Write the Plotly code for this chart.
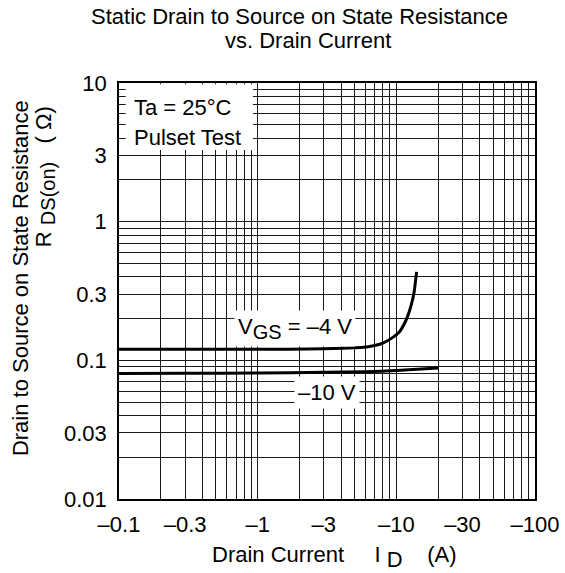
import plotly.graph_objects as go

# ---- data ----
id_vgs4 = [0.1, 0.3, 1, 3, 5, 6.1, 7, 8, 9.5, 10.5, 11.3, 12.0, 12.8, 13.4, 14.0]
r_vgs4 = [0.12, 0.12, 0.12, 0.121, 0.123, 0.125, 0.128, 0.133, 0.147, 0.16, 0.18, 0.205, 0.25, 0.306, 0.435]

id_vgs10 = [0.1, 0.3, 1, 3, 6, 10, 20]
r_vgs10 = [0.0805, 0.0807, 0.081, 0.082, 0.0828, 0.0845, 0.088]

x_label_vals = [0.1, 0.3, 1, 3, 10, 30, 100]
x_label_text = ["–0.1", "–0.3", "–1", "–3", "–10", "–30", "–100"]
y_label_vals = [0.01, 0.03, 0.1, 0.3, 1, 3, 10]
y_label_text = ["0.01", "0.03", "0.1", "0.3", "1", "3", "10"]

x_decades = [0.1, 1, 10]
y_decades = [0.01, 0.1, 1]
mult = [1, 2, 3, 4, 5, 6, 7, 8, 9]


def grid_vals(decades, top):
    vals = [round(d * m, 6) for d in decades for m in mult]
    vals.append(top)
    return vals


xg = grid_vals(x_decades, 100)
yg = grid_vals(y_decades, 10)

FONT = "Liberation Sans, Arial, sans-serif"
FS = 22
LINE = "black"
GRID = "#1a1a1a"

fig = go.Figure()
fig.add_trace(go.Scatter(x=id_vgs4, y=r_vgs4, mode="lines",
                         line=dict(color=LINE, width=3, shape="spline", smoothing=0.6),
                         showlegend=False, hoverinfo="skip"))
fig.add_trace(go.Scatter(x=id_vgs10, y=r_vgs10, mode="lines",
                         line=dict(color=LINE, width=3, shape="spline", smoothing=0.6),
                         showlegend=False, hoverinfo="skip"))

fig.update_layout(
    width=565, height=573,
    margin=dict(l=119, r=30, t=83, b=74),
    paper_bgcolor="white", plot_bgcolor="white",
    font=dict(family=FONT, size=FS, color="black"),
    showlegend=False,
)
common = dict(type="log", tickmode="array", showgrid=True, gridcolor=GRID, gridwidth=1,
              showline=True, linecolor="black", linewidth=1.5, mirror=True,
              ticks="", zeroline=False, automargin=False,
              tickfont=dict(family=FONT, size=FS, color="black"))
fig.update_xaxes(range=[-1, 2], tickvals=x_label_vals, ticktext=x_label_text,
                 ticklabelstandoff=5,
                 minor=dict(tickmode="array", tickvals=xg, showgrid=True,
                            gridcolor=GRID, gridwidth=1, ticks=""),
                 **common)
fig.update_yaxes(range=[-2, 1], tickvals=y_label_vals, ticktext=y_label_text,
                 ticklabelstandoff=6,
                 minor=dict(tickmode="array", tickvals=yg, showgrid=True,
                            gridcolor=GRID, gridwidth=1, ticks=""),
                 **common)

# white box behind the conditions text
fig.add_shape(type="rect", xref="paper", yref="paper",
              x0=0.016, x1=0.322, y0=0.839, y1=0.997,
              fillcolor="white", line=dict(width=0), layer="above")

ann = []
# title
ann.append(dict(text="Static Drain to Source on State Resistance", x=0.433, y=1.159))
ann.append(dict(text="vs. Drain Current", x=0.454, y=1.102))
# conditions
ann.append(dict(text="Ta = 25°C", x=0.031, y=0.942, xanchor="left"))
ann.append(dict(text="Pulset Test", x=0.031, y=0.868, xanchor="left"))
# curve labels
ann.append(dict(text="V<sub><span style='font-size:20px'>GS</span></sub> = –4 V",
                x=0.423, y=0.411, bgcolor="white", borderpad=3))
ann.append(dict(text="–10 V", x=0.5, y=0.255, bgcolor="white", borderpad=3))
# axis titles
ann.append(dict(text="Drain to Source on State Resistance", x=-0.238, y=0.531, textangle=-90))
ann.append(dict(text="R\u00a0<sub><span style='font-size:20px'>DS(on)</span></sub>\u00a0\u00a0\u00a0(\u00a0Ω)",
                x=-0.178, y=0.776, textangle=-90))
ann.append(dict(text="Drain Current\u00a0\u00a0\u00a0\u00a0\u00a0I\u00a0<sub><span style='font-size:22px'>D</span></sub>\u00a0\u00a0\u00a0\u00a0(A)",
                x=0.519, y=-0.14))

for a in ann:
    a.setdefault("xanchor", "center")
    fig.add_annotation(xref="paper", yref="paper", showarrow=False, yanchor="middle",
                       font=dict(family=FONT, size=FS, color="black"), **a)

fig.write_html("out.html")
